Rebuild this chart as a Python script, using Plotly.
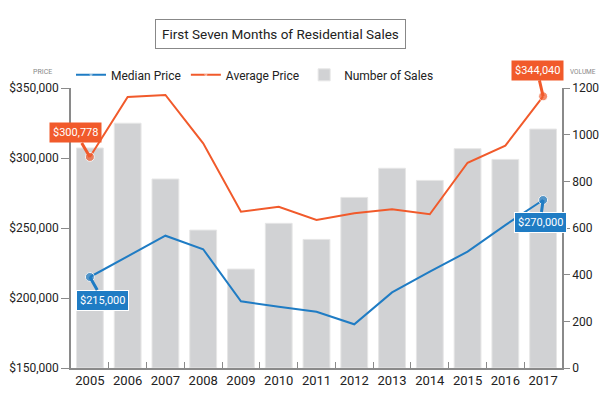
import plotly.graph_objects as go

years = [str(y) for y in range(2005, 2018)]
sales = [943, 1049, 810, 591, 424, 620, 551, 731, 856, 804, 940, 894, 1024]
avg_price = [300778, 343600, 345000, 310500, 261700, 265200, 255700, 260500, 263300, 259800, 296600, 308800, 344040]
median_price = [215000, 229800, 244500, 234800, 197600, 193800, 190200, 181200, 204000, 218800, 233100, 252100, 270000]

FONT = "Roboto, sans-serif"
BLUE = "#1f7cc4"
ORANGE = "#f15a2b"
GREY_BAR = "#d1d2d4"
AXIS = "#8a8a8a"

n = len(years)
msize = [9] + [0] * (n - 2) + [9]

fig = go.Figure()
fig.add_trace(go.Bar(x=years, y=sales, name="Number of Sales", marker=dict(color=GREY_BAR, line=dict(color="#e6e6e6", width=1)),
                     yaxis="y", legendrank=3))
fig.add_trace(go.Scatter(x=years, y=median_price, name="Median Price", mode="lines+markers",
                         line=dict(color=BLUE, width=2), marker=dict(size=msize, color=BLUE),
                         yaxis="y2", legendrank=1))
fig.add_trace(go.Scatter(x=years, y=avg_price, name="Average Price", mode="lines+markers",
                         line=dict(color=ORANGE, width=2), marker=dict(size=msize, color=ORANGE),
                         yaxis="y2", legendrank=2))

fig.update_layout(
    width=600, height=400,
    margin=dict(l=71, r=38, t=88, b=32, autoexpand=False),
    paper_bgcolor="white", plot_bgcolor="white",
    font=dict(family=FONT, size=12, color="#222"),
    bargap=0.29,
    showlegend=True,
    legend=dict(orientation="h", x=0.0, xanchor="left", y=1.047, yanchor="middle",
                font=dict(size=12, color="#222"), itemwidth=30, traceorder="normal",
                bgcolor="rgba(0,0,0,0)"),
    xaxis=dict(type="category", range=[-0.5, n - 0.5], showline=True, linecolor=AXIS, linewidth=1.5,
               ticks="inside", tickson="boundaries", ticklen=6, tickcolor=AXIS, tickangle=0,
               showgrid=False, tickfont=dict(size=13, color="#222"), automargin=False),
    yaxis=dict(side="right", range=[0, 1200], dtick=200, showgrid=False, zeroline=False,
               showline=True, linecolor=AXIS, linewidth=1.5, ticks="outside", ticklen=6,
               tickcolor=AXIS, tickfont=dict(size=12, color="#222"), automargin=False),
    yaxis2=dict(side="left", overlaying="y", range=[150000, 350000], dtick=50000,
                tickprefix="$", tickformat=",", showgrid=False, zeroline=False,
                showline=True, linecolor=AXIS, linewidth=1.5, ticks="outside", ticklen=8,
                tickcolor=AXIS, tickfont=dict(size=12, color="#222"), automargin=False),
)

annots = [
    dict(xref="paper", yref="paper", x=0.427, y=1.193, xanchor="center", yanchor="middle",
         text="First Seven Months of Residential Sales",
         showarrow=False, font=dict(size=13.5, color="#222"), bordercolor="#888", borderwidth=1,
         borderpad=6, bgcolor="white"),
    dict(xref="paper", yref="paper", x=-0.035, y=1.057, yanchor="middle", text="PRICE", showarrow=False,
         xanchor="right", font=dict(size=7, color="#888")),
    dict(xref="paper", yref="paper", x=1.073, y=1.057, yanchor="middle", text="VOLUME", showarrow=False,
         xanchor="right", font=dict(size=6.5, color="#888")),
    dict(x=0, y=avg_price[0], yref="y2", text="$300,778", showarrow=True, ax=-14, ay=-24,
         arrowhead=0, arrowwidth=3, arrowcolor=ORANGE, bgcolor=ORANGE, borderpad=3,
         font=dict(size=11, color="white")),
    dict(x=n - 1, y=avg_price[-1], yref="y2", text="$344,040", showarrow=True, ax=-6, ay=-26,
         arrowhead=0, arrowwidth=3, arrowcolor=ORANGE, bgcolor=ORANGE, borderpad=3,
         font=dict(size=11, color="white")),
    dict(x=0, y=median_price[0], yref="y2", text="$215,000", showarrow=True, ax=13, ay=23,
         arrowhead=0, arrowwidth=3, arrowcolor=BLUE, bgcolor=BLUE, bordercolor="white", borderwidth=1,
         borderpad=3, font=dict(size=11, color="white")),
    dict(x=n - 1, y=median_price[-1], yref="y2", text="$270,000", showarrow=True, ax=-3, ay=22,
         arrowhead=0, arrowwidth=3, arrowcolor=BLUE, bgcolor=BLUE, bordercolor="white", borderwidth=1,
         borderpad=3, font=dict(size=11, color="white")),
]
fig.update_layout(annotations=annots)

fig.write_html("out.html", config={"displayModeBar": False},
               post_script="document.body.style.margin='0';document.body.style.overflow='hidden';")
